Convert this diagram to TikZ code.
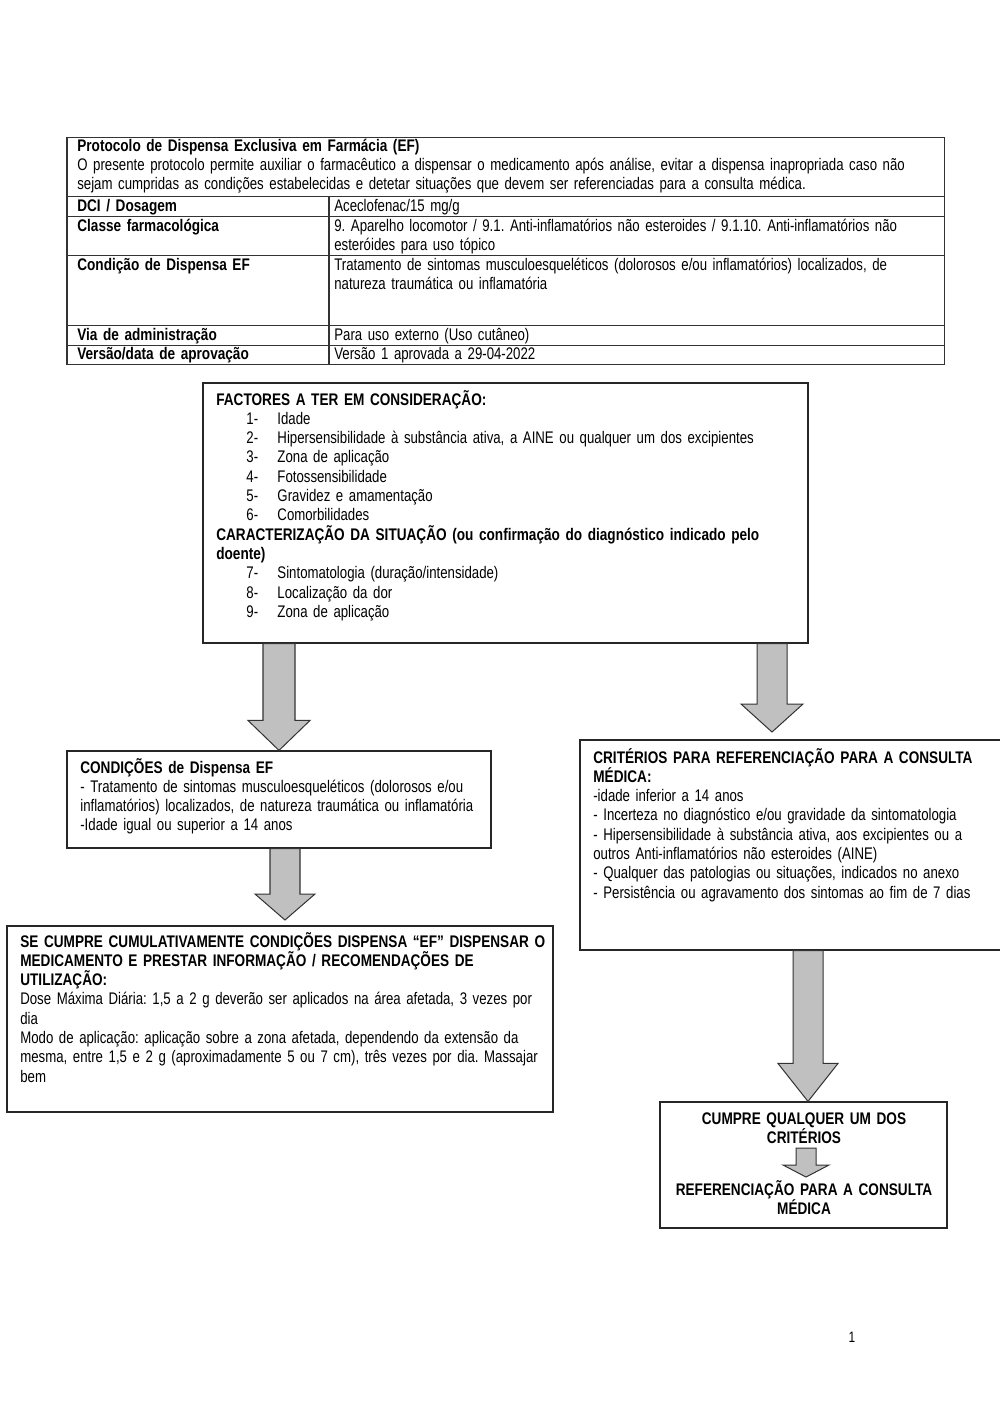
\documentclass[tikz,border=0pt]{standalone}
\usepackage{fontspec}
\setmainfont{Liberation Sans}[FakeStretch=0.787,BoldFeatures={FakeStretch=0.81}]
\usepackage{tikz}
\usetikzlibrary{calc}
\usetikzlibrary{fit,positioning}

\definecolor{arrowgray}{HTML}{C0C0C0}
\frenchspacing

% fat down arrow: top point, tip, half shaft, half head, head length
\newcommand{\blockarrow}[5]{%
  \draw[arrowbody] ($(#1)+(-#3,0)$) -- ($(#1)+(#3,0)$) -- ($(#2)+(#3,-#5)$)
    -- ($(#2)+(#4,-#5)$) -- (#2) -- ($(#2)+(-#4,-#5)$) -- ($(#2)+(-#3,-#5)$) -- cycle;}
% numbered line in the list
\newcommand{\numline}[2]{\hspace*{17.9pt}\makebox[18.5pt][l]{#1}#2}
\newcommand{\narrowtext}{\fontsize{10pt}{11.5pt}\selectfont}

\begin{document}
\begin{tikzpicture}
        [x=0.5953pt,y=-0.5953pt,
          box/.style={draw=black!85,line width=0.7pt,inner sep=0pt},
          tline/.style={draw=black!80,line width=0.6pt},
          txt/.style={inner sep=0pt,align=left,text width=560pt,font=\narrowtext},
          ctxt/.style={inner sep=0pt,align=center,text width=170pt,font=\narrowtext\bfseries},
          arrowbody/.style={fill=arrowgray,draw=black!80,line width=0.6pt,line join=miter}]
        \useasboundingbox[fill=white] (0,0) rectangle (1000,1414);

        % table at the top
        \draw[tline] (67,137) rectangle (944,364);
        \foreach \y in {196,216,255,325,345}
          \draw[tline] (67,\y) -- (944,\y);
        \draw[tline] (329,196) -- (329,364);
        \node[txt,anchor=base west] (head) at (77,151) {\textbf{Protocolo de Dispensa Exclusiva em Farmácia (EF)}\\
          O presente protocolo permite auxiliar o farmacêutico a dispensar o medicamento após análise, evitar a dispensa inapropriada caso não\\
          sejam cumpridas as condições estabelecidas e detetar situações que devem ser referenciadas para a consulta médica.};
        \node[txt,anchor=base west] (dci) at (77,211) {\textbf{DCI / Dosagem}};
        \node[txt,anchor=base west] (dciv) at (334,211) {Aceclofenac/15 mg/g};
        \node[txt,anchor=base west] (classe) at (77,231) {\textbf{Classe farmacológica}};
        \node[txt,anchor=base west] (classev) at (334,231) {9. Aparelho locomotor / 9.1. Anti-inflamatórios não esteroides / 9.1.10. Anti-inflamatórios não\\
          esteróides para uso tópico};
        \node[txt,anchor=base west] (cond) at (77,270) {\textbf{Condição de Dispensa EF}};
        \node[txt,anchor=base west] (condv) at (334,270) {Tratamento de sintomas musculoesqueléticos (dolorosos e/ou inflamatórios) localizados, de\\
          natureza traumática ou inflamatória};
        \node[txt,anchor=base west] (via) at (77,340) {\textbf{Via de administração}};
        \node[txt,anchor=base west] (viav) at (334,340) {Para uso externo (Uso cutâneo)};
        \node[txt,anchor=base west] (versao) at (77,359) {\textbf{Versão/data de aprovação}};
        \node[txt,anchor=base west] (versaov) at (334,359) {Versão 1 aprovada a 29-04-2022};

        % boxes of the flow
        \node[box,fit={(203,383) (808,643)}] (fact) {};
        \node[box,fit={(67,751) (491,848)}] (condef) {};
        \node[box,fit={(580,740) (1003,950)}] (crit) {};
        \node[box,fit={(7,926) (553,1112)}] (secumpre) {};
        \node[box,fit={(660,1102) (947,1228)}] (cumpre) {};

        \node[txt,anchor=base west] (facttxt) at (216,405) {\textbf{FACTORES A TER EM CONSIDERAÇÃO:}\\
          \numline{1-}{Idade}\\
          \numline{2-}{Hipersensibilidade à substância ativa, a AINE ou qualquer um dos excipientes}\\
          \numline{3-}{Zona de aplicação}\\
          \numline{4-}{Fotossensibilidade}\\
          \numline{5-}{Gravidez e amamentação}\\
          \numline{6-}{Comorbilidades}\\
          \textbf{CARACTERIZAÇÃO DA SITUAÇÃO (ou confirmação do diagnóstico indicado pelo}\\
          \textbf{doente)}\\
          \numline{7-}{Sintomatologia (duração/intensidade)}\\
          \numline{8-}{Localização da dor}\\
          \numline{9-}{Zona de aplicação}};
        \node[txt,anchor=base west] (condeftxt) at (80,773) {\textbf{CONDIÇÕES de Dispensa EF}\\
          - Tratamento de sintomas musculoesqueléticos (dolorosos e/ou\\
          inflamatórios) localizados, de natureza traumática ou inflamatória\\
          -Idade igual ou superior a 14 anos};
        \node[txt,anchor=base west] (crittxt) at (593,763) {\textbf{CRITÉRIOS PARA REFERENCIAÇÃO PARA A CONSULTA}\\
          \textbf{MÉDICA:}\\
          -idade inferior a 14 anos\\
          - Incerteza no diagnóstico e/ou gravidade da sintomatologia\\
          - Hipersensibilidade à substância ativa, aos excipientes ou a\\
          outros Anti-inflamatórios não esteroides (AINE)\\
          - Qualquer das patologias ou situações, indicados no anexo\\
          - Persistência ou agravamento dos sintomas ao fim de 7 dias};
        \node[txt,anchor=base west] (secumpretxt) at (20,947) {\textbf{SE CUMPRE CUMULATIVAMENTE CONDIÇÕES DISPENSA “EF” DISPENSAR O}\\
          \textbf{MEDICAMENTO E PRESTAR INFORMAÇÃO / RECOMENDAÇÕES DE}\\
          \textbf{UTILIZAÇÃO:}\\
          Dose Máxima Diária: 1,5 a 2 g deverão ser aplicados na área afetada, 3 vezes por\\
          dia\\
          Modo de aplicação: aplicação sobre a zona afetada, dependendo da extensão da\\
          mesma, entre 1,5 e 2 g (aproximadamente 5 ou 7 cm), três vezes por dia. Massajar\\
          bem};
        \node[ctxt,anchor=base] (cumpretxt) at (804,1124) {CUMPRE QUALQUER UM DOS\\ CRITÉRIOS};
        \node[ctxt,anchor=base] (reftxt) at (804,1195) {REFERENCIAÇÃO PARA A CONSULTA\\ MÉDICA};

        % arrows
        \coordinate (xa) at (279,0);
        \coordinate (xb) at (772,0);
        \coordinate (xc) at (285,0);
        \coordinate (xd) at (808,0);
        \coordinate (a1) at (fact.south -| xa);
        \coordinate (a1t) at (condef.north -| xa);
        \coordinate (a2) at (fact.south -| xb);
        \coordinate (a2t) at (772,732);
        \coordinate (a3) at (condef.south -| xc);
        \coordinate (a3t) at (285,920);
        \coordinate (a4) at (crit.south -| xd);
        \coordinate (a4t) at (cumpre.north -| xd);
        \coordinate (a5) at (806,1148);
        \coordinate (a5t) at (806,1177);
        \blockarrow{a1}{a1t}{16}{31}{30}
        \blockarrow{a2}{a2t}{15}{31}{28}
        \blockarrow{a3}{a3t}{15}{30}{26}
        \blockarrow{a4}{a4t}{15}{30}{38}
        \blockarrow{a5}{a5t}{10}{23}{12}

        \node[inner sep=0pt,anchor=base,font=\fontsize{9pt}{11pt}\selectfont] (pagenum) at (852,1342) {1};
      \end{tikzpicture}
\end{document}
